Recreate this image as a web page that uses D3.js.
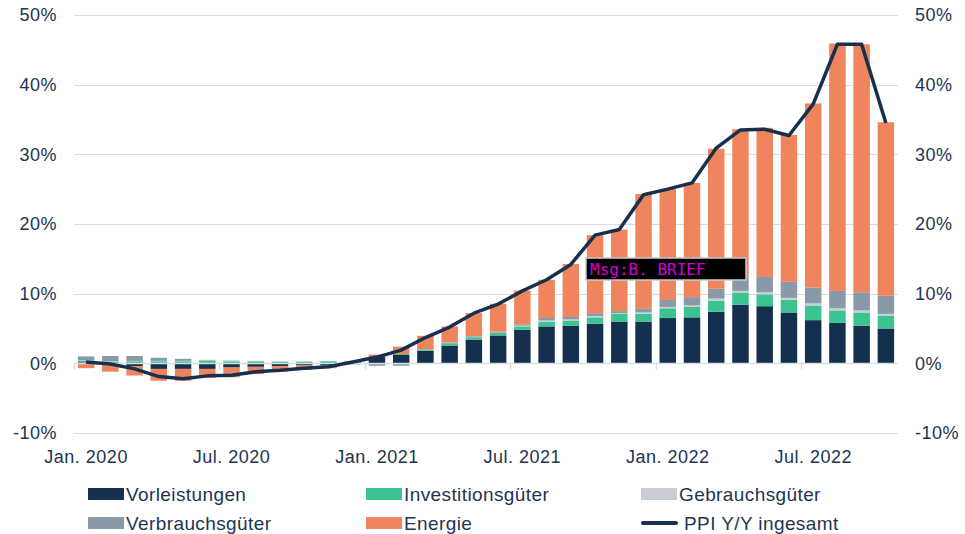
<!DOCTYPE html>
<html>
<head>
<meta charset="utf-8">
<script src="https://cdn.jsdelivr.net/npm/d3@7"></script>
<style>
  body { margin: 0; background: #fff; }
  svg { display: block; font-family: "Liberation Sans", Arial, sans-serif; }
</style>
</head>
<body>
<div id="chart"></div>
<script>
// Monate Jan. 2020 - Okt. 2022
var months = ["2020-01","2020-02","2020-03","2020-04","2020-05","2020-06","2020-07","2020-08","2020-09","2020-10","2020-11","2020-12",
              "2021-01","2021-02","2021-03","2021-04","2021-05","2021-06","2021-07","2021-08","2021-09","2021-10","2021-11","2021-12",
              "2022-01","2022-02","2022-03","2022-04","2022-05","2022-06","2022-07","2022-08","2022-09","2022-10"];

var tickMonths = ["2020-01","2020-07","2021-01","2021-07","2022-01","2022-07"];
var tickLabels = ["Jan. 2020","Jul. 2020","Jan. 2021","Jul. 2021","Jan. 2022","Jul. 2022"];
var yTicks = [-10, 0, 10, 20, 30, 40, 50];

// Beiträge in Prozentpunkten
var vorleistungen = [0.15,-0.2,-0.4,-0.8,-0.8,-0.8,-0.6,-0.5,-0.4,-0.3,-0.25,0.05,
                     0.9,1.2,1.8,2.55,3.4,4.0,4.8,5.3,5.4,5.7,6.0,6.0,
                     6.5,6.6,7.4,8.4,8.2,7.3,6.2,5.8,5.4,5.0];
var investitionsgueter = [0.25,0.25,0.3,0.3,0.3,0.35,0.3,0.3,0.25,0.25,0.3,0.2,
                          0.15,0.15,0.2,0.35,0.35,0.35,0.5,0.7,0.75,0.9,1.1,1.1,
                          1.4,1.5,1.6,1.7,1.7,1.8,2.1,1.8,1.9,1.8];
var gebrauchsgueter = [0.05,0.05,0.05,0.05,0.05,0.05,0.05,0.05,0.05,0.0,0.0,-0.05,
                       -0.1,-0.1,0.0,0.05,0.05,0.05,0.1,0.15,0.15,0.2,0.1,0.2,
                       0.2,0.2,0.3,0.3,0.3,0.3,0.3,0.3,0.3,0.3];
var verbrauchsgueter = [0.55,0.75,0.7,0.45,0.3,0.1,0.05,0.0,0.0,0.0,0.0,-0.1,
                        -0.25,-0.25,-0.05,0.05,0.1,0.15,0.2,0.35,0.35,0.4,0.3,0.6,
                        1.0,1.2,1.4,2.1,2.2,2.3,2.3,2.5,2.6,2.6];
var energie = [-0.7,-1.0,-1.35,-1.7,-1.7,-1.3,-1.4,-1.05,-0.8,-0.65,-0.45,0.1,
               0.2,1.05,1.95,2.3,3.3,4.0,4.85,5.5,7.6,11.2,11.7,16.4,
               15.9,16.4,20.1,21.1,21.4,21.1,26.4,35.5,35.6,24.9];
var ppiGesamt = [0.2,-0.1,-0.8,-1.9,-2.2,-1.8,-1.7,-1.2,-1.0,-0.7,-0.5,0.2,
                 0.9,1.9,3.7,5.2,7.2,8.5,10.4,12.0,14.2,18.4,19.2,24.2,
                 25.0,25.9,30.9,33.5,33.6,32.7,37.2,45.8,45.8,34.5];

var seriesKeys = ["Vorleistungen","Investitionsgüter","Gebrauchsgüter","Verbrauchsgüter","Energie"];
var seriesColors = ["#15304f","#3bc48f","#c8cdd3","#8a99a7","#f0845c"];
var lineColor = "#17304d";
var textColor = "#1e3452";
var gridColor = "#d9dde2";

// Tabelle für d3.stack
var table = months.map(function(m, i) {
    return {
        month: m,
        "Vorleistungen": vorleistungen[i],
        "Investitionsgüter": investitionsgueter[i],
        "Gebrauchsgüter": gebrauchsgueter[i],
        "Verbrauchsgüter": verbrauchsgueter[i],
        "Energie": energie[i]
    };
});

var width = 965;
var height = 534;
var margin = { top: 15, bottom: 101, left: 74, right: 67 };

var svg = d3.select("#chart").append("svg").attr("width", width).attr("height", height);

var xScale = d3.scaleBand()
    .domain(months)
    .range([margin.left, width - margin.right])
    .paddingInner(0.32)
    .paddingOuter(0.16);

var yScale = d3.scaleLinear()
    .domain([-10, 50])
    .range([height - margin.bottom, margin.top]);

// Gitterlinien
svg.append("g")
    .selectAll("line")
    .data(yTicks)
    .enter()
    .append("line")
    .attr("x1", margin.left)
    .attr("x2", width - margin.right)
    .attr("y1", function(d) { return Math.round(yScale(d)) + 0.5; })
    .attr("y2", function(d) { return Math.round(yScale(d)) + 0.5; })
    .attr("stroke", gridColor)
    .attr("stroke-width", 1);

// linke und rechte Achsenbeschriftung
var axisLeft = d3.axisLeft(yScale).tickValues(yTicks).tickSize(0).tickPadding(17)
    .tickFormat(function(d) { return d + "%"; });
var axisRight = d3.axisRight(yScale).tickValues(yTicks).tickSize(0).tickPadding(17)
    .tickFormat(function(d) { return d + "%"; });

var gl = svg.append("g").attr("transform", "translate(" + margin.left + ",0)").call(axisLeft);
var gr = svg.append("g").attr("transform", "translate(" + (width - margin.right) + ",0)").call(axisRight);
[gl, gr].forEach(function(g) {
    g.select(".domain").remove();
    g.selectAll("text")
        .attr("fill", textColor)
        .attr("font-size", "18px")
        .attr("letter-spacing", "0.5px")
        .attr("font-family", "'Liberation Sans', Arial, sans-serif");
});

// gestapelte Balken
var stack = d3.stack().keys(seriesKeys).offset(d3.stackOffsetDiverging);
var stacked = stack(table);

svg.append("g")
    .selectAll("g")
    .data(stacked)
    .enter()
    .append("g")
    .attr("fill", function(d, i) { return seriesColors[i]; })
    .selectAll("rect")
    .data(function(d) { return d; })
    .enter()
    .append("rect")
    .attr("x", function(d) { return xScale(d.data.month); })
    .attr("width", xScale.bandwidth())
    .attr("y", function(d) { return yScale(Math.max(d[0], d[1])); })
    .attr("height", function(d) { return Math.abs(yScale(d[0]) - yScale(d[1])); });

// Nulllinie mit Teilstrichen
var zeroY = Math.round(yScale(0)) + 0.5;
svg.append("line")
    .attr("x1", margin.left)
    .attr("x2", width - margin.right)
    .attr("y1", zeroY)
    .attr("y2", zeroY)
    .attr("stroke", gridColor)
    .attr("stroke-width", 1.5);

var step = xScale.step();
svg.append("g")
    .selectAll("line")
    .data(tickMonths)
    .enter()
    .append("line")
    .attr("x1", function(d) { return Math.round(xScale(d) + xScale.bandwidth() / 2 - step / 2) + 0.5; })
    .attr("x2", function(d) { return Math.round(xScale(d) + xScale.bandwidth() / 2 - step / 2) + 0.5; })
    .attr("y1", zeroY)
    .attr("y2", zeroY + 6)
    .attr("stroke", gridColor)
    .attr("stroke-width", 1.5);

// X-Beschriftung
svg.append("g")
    .selectAll("text")
    .data(tickMonths)
    .enter()
    .append("text")
    .attr("x", function(d) { return xScale(d) + xScale.bandwidth() / 2; })
    .attr("y", 463)
    .attr("text-anchor", "middle")
    .attr("fill", textColor)
    .attr("font-size", "18px")
    .attr("letter-spacing", "0.5px")
    .text(function(d, i) { return tickLabels[i]; });

// PPI Linie
svg.append("path")
    .datum(ppiGesamt)
    .attr("fill", "none")
    .attr("stroke", lineColor)
    .attr("stroke-width", 3.5)
    .attr("stroke-linejoin", "round")
    .attr("d", d3.line()
        .x(function(d, i) { return xScale(months[i]) + xScale.bandwidth() / 2; })
        .y(function(d) { return yScale(d); }));

// Legende
var legendItems = [
    { name: "Vorleistungen", color: seriesColors[0], x: 88, y: 494, type: "rect" },
    { name: "Investitionsgüter", color: seriesColors[1], x: 366, y: 494, type: "rect" },
    { name: "Gebrauchsgüter", color: seriesColors[2], x: 641, y: 494, type: "rect" },
    { name: "Verbrauchsgüter", color: seriesColors[3], x: 88, y: 523, type: "rect" },
    { name: "Energie", color: seriesColors[4], x: 366, y: 523, type: "rect" },
    { name: "PPI Y/Y ingesamt", color: lineColor, x: 642, y: 523, type: "line" }
];

var legend = svg.append("g")
    .selectAll("g")
    .data(legendItems)
    .enter()
    .append("g")
    .attr("transform", function(d) { return "translate(" + d.x + "," + d.y + ")"; });

legend.filter(function(d) { return d.type == "rect"; })
    .append("rect")
    .attr("x", 0)
    .attr("y", -6)
    .attr("width", 36)
    .attr("height", 12)
    .attr("fill", function(d) { return d.color; });

legend.filter(function(d) { return d.type == "line"; })
    .append("line")
    .attr("x1", 1)
    .attr("x2", 34)
    .attr("y1", 0)
    .attr("y2", 0)
    .attr("stroke", function(d) { return d.color; })
    .attr("stroke-width", 4)
    .attr("stroke-linecap", "round");

legend.append("text")
    .attr("x", function(d) { return d.type == "line" ? 42 : 38; })
    .attr("y", 7)
    .attr("fill", textColor)
    .attr("font-size", "19px")
    .attr("letter-spacing", "0.4px")
    .text(function(d) { return d.name; });

// Overlay-Box
var msg = svg.append("g").attr("transform", "translate(586,258)");
msg.append("rect")
    .attr("x", 0)
    .attr("y", 0)
    .attr("width", 160)
    .attr("height", 22)
    .attr("fill", "#000")
    .attr("stroke", "#c9c9c9")
    .attr("stroke-width", 1.5);
msg.append("text")
    .attr("x", 4)
    .attr("y", 17)
    .attr("fill", "#d400d4")
    .attr("font-family", "'DejaVu Sans Mono', monospace")
    .attr("font-size", "16px")
    .text("Msg:B. BRIEF");
</script>
</body>
</html>
